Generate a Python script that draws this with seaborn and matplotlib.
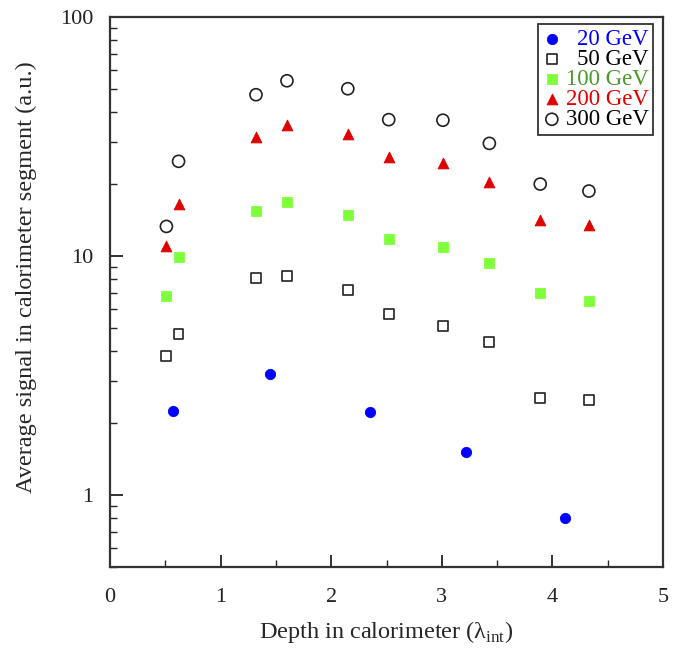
import numpy as np
import pandas as pd
import matplotlib
matplotlib.use("Agg")
import matplotlib.pyplot as plt
import seaborn as sns
from matplotlib.ticker import FixedLocator, NullFormatter, FixedFormatter

# ---- data ----
depth = [0.51, 0.62, 1.32, 1.60, 2.15, 2.52, 3.01, 3.43, 3.89, 4.33]
depth_20 = [0.57, 1.45, 2.35, 3.22, 4.11]
sig_20 = [2.24, 3.22, 2.22, 1.51, 0.80]
sig_50 = [3.83, 4.73, 8.1, 8.25, 7.22, 5.73, 5.11, 4.38, 2.54, 2.49]
sig_100 = [6.81, 9.9, 15.4, 16.9, 14.8, 11.8, 10.9, 9.35, 7.01, 6.49]
sig_200 = [11.0, 16.5, 31.6, 35.5, 32.5, 25.9, 24.6, 20.5, 14.1, 13.5]
sig_300 = [13.3, 24.9, 47.3, 54.1, 50.1, 37.2, 37.0, 29.6, 20.0, 18.7]
labels = ["20 GeV", "50 GeV", "100 GeV", "200 GeV", "300 GeV"]
x_ticks = [0, 1, 2, 3, 4, 5]
y_ticks = [1, 10, 100]

sns.set_theme(style="white")
plt.rcParams["font.family"] = ["Liberation Serif", "DejaVu Serif"]
plt.rcParams["mathtext.fontset"] = "custom"
plt.rcParams["mathtext.rm"] = "Liberation Serif"

fig = plt.figure(figsize=(6.75, 6.5), dpi=100)
ax = fig.add_axes([110 / 675, 83 / 650, 553 / 675, 550 / 650])

series = [
    (depth_20, sig_20, dict(marker="o", color="#0000ff", edgecolor="#0000ff", s=55), "#0000ff"),
    (depth, sig_50, dict(marker="s", facecolor="none", edgecolor="#222222", linewidth=1.2, s=50), "#000000"),
    (depth, sig_100, dict(marker="s", color="#7fff3a", edgecolor="#7fff3a", s=50), "#4a9a2a"),
    (depth, sig_200, dict(marker="^", color="#e00000", edgecolor="#e00000", s=60), "#e00000"),
    (depth, sig_300, dict(marker="o", facecolor="none", edgecolor="#222222", linewidth=1.2, s=75), "#000000"),
]
text_colors = []
for (xs, ys, kw, tc), lab in zip(series, labels):
    df = pd.DataFrame({"x": xs, "y": ys})
    sns.scatterplot(data=df, x="x", y="y", ax=ax, label=lab, **kw)
    text_colors.append(tc)

ax.set_yscale("log")
ax.set_xlim(0, 5)
ax.set_ylim(0.5, 100)

ax.xaxis.set_major_locator(FixedLocator(x_ticks))
ax.xaxis.set_minor_locator(FixedLocator([0.5, 1.5, 2.5, 3.5, 4.5]))
ax.yaxis.set_major_locator(FixedLocator(y_ticks))
ax.yaxis.set_major_formatter(FixedFormatter([str(v) for v in y_ticks]))
minor_y = [v * d for d in (0.1, 1, 10) for v in range(2, 10)]
ax.yaxis.set_minor_locator(FixedLocator([m for m in minor_y if 0.5 <= m <= 100]))
ax.yaxis.set_minor_formatter(NullFormatter())

ax.tick_params(axis="both", which="major", direction="in", length=9, width=1.3,
               labelsize=16, colors="#222222", left=True, bottom=True)
ax.tick_params(axis="both", which="minor", direction="in", length=5, width=1.0,
               left=True, bottom=True)
ax.tick_params(axis="x", which="major", pad=15)
ax.tick_params(axis="y", which="major", pad=12)
for sp in ax.spines.values():
    sp.set_color("#333333")
    sp.set_linewidth(1.6)

ax.set_xlabel("Depth in calorimeter (\u03bb$_{\\rm int}$)", fontsize=17.5, labelpad=9)
ax.set_ylabel("Average signal in calorimeter segment (a.u.)", fontsize=17.5)
ax.yaxis.set_label_coords(-0.132, 0.527)

leg = ax.legend(loc="upper right", bbox_to_anchor=(0.982, 0.987), fontsize=16.5,
                frameon=True, fancybox=False, edgecolor="#333333", framealpha=1,
                handletextpad=0.2, borderpad=0.2, labelspacing=-0.04, handlelength=0.8,
                borderaxespad=0)
leg.get_frame().set_linewidth(1.3)
for t, c in zip(leg.get_texts(), text_colors):
    t.set_color(c)
fig.canvas.draw()
renderer = fig.canvas.get_renderer()
widths = [t.get_window_extent(renderer).width for t in leg.get_texts()]
maxw = max(widths)
for t, w in zip(leg.get_texts(), widths):
    t.set_ha("left")
    t.set_position((maxw - w, 0))

fig.savefig("out.png", dpi=100)
